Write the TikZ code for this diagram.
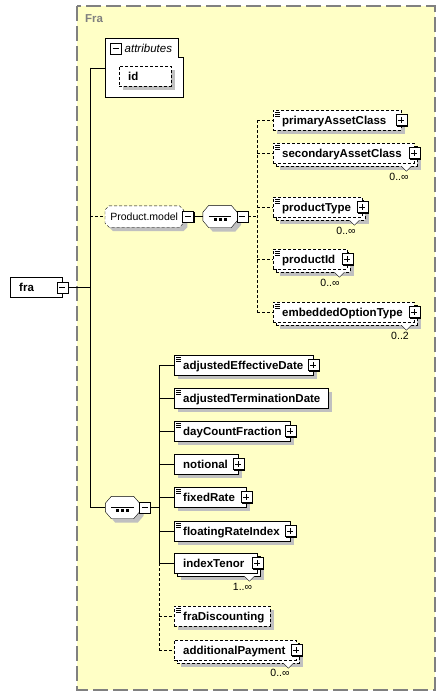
\documentclass[tikz,border=0pt]{standalone}
\usepackage{fontspec}
\setmainfont{Liberation Sans}
\usetikzlibrary{shadows}
\definecolor{bgyellow}{RGB}{255,255,198}
\definecolor{framegray}{RGB}{128,128,128}
\definecolor{shadowgray}{RGB}{192,192,192}
\newcommand\elfont{\fontsize{11.5}{13}\selectfont\bfseries}
\newcommand\elbox[2]{\makebox[#1pt][l]{\hspace{9pt}\rule[-3pt]{0pt}{14pt}#2}}
\newcommand\octp[3]{([xshift=#2]#1.north west) -- ([xshift=-#2]#1.north east) -- ([yshift=-#3]#1.north east) -- ([yshift=#3]#1.south east) -- ([xshift=-#2]#1.south east) -- ([xshift=#2]#1.south west) -- ([yshift=#3]#1.south west) -- ([yshift=-#3]#1.north west) -- cycle}
\newcommand\notch[1]{\filldraw[fill=white, solid] ([shift={(-13pt,-3pt)}]#1.south east) -- ([shift={(-8pt,-8pt)}]#1.south east) -- ([shift={(-3pt,-3pt)}]#1.south east);}
\pgfdeclarelayer{bgl}
\pgfsetlayers{bgl,main}
\begin{document}
\begin{tikzpicture}[x=1pt,y=-1pt,line width=0.8pt,
  elem/.style={draw, fill=white, inner sep=0pt, minimum height=20pt, anchor=west, font=\elfont},
  opt/.style={dash pattern=on 3pt off 2pt},
  shad/.style={drop shadow={shadow xshift=4pt, shadow yshift=-4pt, fill=shadowgray, opacity=1}},
  multi/.style={drop shadow={shadow xshift=7pt, shadow yshift=-7pt, fill=shadowgray, opacity=1},
                copy shadow={shadow xshift=3pt, shadow yshift=-3pt, draw=black, fill=white, opacity=1}},
  pmb/.style={draw, solid, fill=white, minimum size=11pt, inner sep=0pt,
              drop shadow={shadow xshift=1pt, shadow yshift=-1pt, fill=black, opacity=1}},
  plus/.style={pmb, path picture={\draw ([xshift=2.5pt]path picture bounding box.west) -- ([xshift=-2.5pt]path picture bounding box.east) ([yshift=-2.5pt]path picture bounding box.north) -- ([yshift=2.5pt]path picture bounding box.south);}},
  minus/.style={pmb, path picture={\draw ([xshift=2.5pt]path picture bounding box.west) -- ([xshift=-2.5pt]path picture bounding box.east);}},
  doc/.style={path picture={\foreach \d in {2,4,6} \draw[line width=0.6pt, solid] ([shift={(2pt,-\d pt)}]path picture bounding box.north west) -- ++(5,0);}},
  seqn/.style={minimum width=34pt, minimum height=22pt, inner sep=0pt},
  occ/.style={font=\fontsize{10.5}{12}\selectfont, inner sep=0pt},
  conn/.style={draw},
  dconn/.style={draw, dash pattern=on 3pt off 2pt}
]
\useasboundingbox (0,0) rectangle (446,697);
\begin{pgfonlayer}{bgl}
\filldraw[fill=bgyellow, draw=framegray, line width=1.2pt, dash pattern=on 15pt off 5pt] (77,6) rectangle (435,690);
\end{pgfonlayer}
\node[anchor=west, inner sep=0pt, font=\fontsize{11.5}{13}\selectfont\bfseries, text=framegray] (title) at (85,19) {Fra};

% attributes
\node[minimum width=78pt, minimum height=59pt, anchor=north west, inner sep=0pt] (attr) at (105,38) {};
\filldraw[fill=white] (attr.north west) -- ([xshift=-5pt]attr.north east) -- ([shift={(-5pt,-19pt)}]attr.north east) -- ([yshift=-19pt]attr.north east) -- (attr.south east) -- (attr.south west) -- cycle;
\node[minus] (attrm) at (115.5,48.5) {};
\node[anchor=west, inner sep=0pt, font=\fontsize{11.5}{13}\selectfont\itshape] (attrt) at (124.5,48.5) {attributes};
\node[elem, opt, shad] (id) at (119,76) {\elbox{52}{id}};

% root
\node[elem] (fra) at (10,287.5) {\elbox{52}{fra}};
\node[minus] (frm) at (fra.east) {};

% product model group
\node[minimum width=78pt, minimum height=21pt, inner sep=0pt, anchor=west, font=\fontsize{10.5}{12}\selectfont] (pm) at (105,216.5) {Product.model};
\node[minus, anchor=west] (pmm) at ([xshift=-1pt]pm.east) {};
\node[seqn] (seq1) at (220,216.5) {};
\node[minus, anchor=west] (s1m) at ([xshift=-0.5pt]seq1.east) {};
\node[seqn] (seq2) at (122.5,507.5) {};
\node[minus, anchor=west] (s2m) at ([xshift=-0.5pt]seq2.east) {};
\begin{pgfonlayer}{bgl}
\begin{scope}[transform canvas={shift={(4pt,-4pt)}}]
\fill[shadowgray] \octp{pm}{4pt}{4pt};
\fill[shadowgray] \octp{seq1}{6pt}{7pt};
\fill[shadowgray] \octp{seq2}{6pt}{7pt};
\end{scope}
\filldraw[fill=white, dash pattern=on 3pt off 2pt] \octp{pm}{4pt}{4pt};
\filldraw[fill=white] \octp{seq1}{6pt}{7pt};
\filldraw[fill=white] \octp{seq2}{6pt}{7pt};
\end{pgfonlayer}
\foreach \s in {seq1,seq2}{
  \draw ([xshift=6pt]\s.west) -- ([xshift=-6pt]\s.east);
  \foreach \dx in {-5,0,5} \fill ([shift={(\dx pt-1.5pt,-1.5pt)}]\s.center) rectangle ++(3,3);
}

% product children
\node[elem, opt, doc, shad] (pac) at (273,120) {\elbox{128}{primaryAssetClass}};
\node[plus] (pacp) at (pac.east) {};
\node[elem, opt, doc, multi] (sac) at (273,153) {\elbox{141}{secondaryAssetClass}};
\node[plus] (sacp) at (sac.east) {};
\notch{sac}
\node[occ] (saco) at (399,177) {0..∞};
\node[elem, opt, doc, multi] (pty) at (273,207) {\elbox{89}{productType}};
\node[plus] (ptyp) at (pty.east) {};
\notch{pty}
\node[occ] (ptyo) at (346,231) {0..∞};
\node[elem, opt, doc, multi] (pid) at (273,259) {\elbox{74}{productId}};
\node[plus] (pidp) at (pid.east) {};
\notch{pid}
\node[occ] (pido) at (330,283) {0..∞};
\node[elem, opt, doc, multi] (eot) at (273,312) {\elbox{141}{embeddedOptionType}};
\node[plus] (eotp) at (eot.east) {};
\notch{eot}
\node[occ] (eoto) at (400,336) {0..2};

% sequence children
\node[elem, doc, shad] (aed) at (174,365) {\elbox{139}{adjustedEffectiveDate}};
\node[plus] (aedp) at (aed.east) {};
\node[elem, doc, shad] (atd) at (174,398) {\elbox{154}{adjustedTerminationDate}};
\node[elem, doc, shad] (dcf) at (174,431) {\elbox{116}{dayCountFraction}};
\node[plus] (dcfp) at (dcf.east) {};
\node[elem, shad] (ntl) at (174,464) {\elbox{64}{notional}};
\node[plus] (ntlp) at (ntl.east) {};
\node[elem, doc, shad] (fxr) at (174,497) {\elbox{72}{fixedRate}};
\node[plus] (fxrp) at (fxr.east) {};
\node[elem, doc, shad] (fri) at (174,531) {\elbox{116}{floatingRateIndex}};
\node[plus] (frip) at (fri.east) {};
\node[elem, multi] (itn) at (174,563) {\elbox{83}{indexTenor}};
\node[plus] (itnp) at (itn.east) {};
\notch{itn}
\node[occ] (itno) at (242.5,587) {1..∞};
\node[elem, opt, doc, shad] (frd) at (174,616) {\elbox{96}{fraDiscounting}};
\node[elem, opt, multi] (adp) at (174,650) {\elbox{122}{additionalPayment}};
\node[plus] (adpp) at (adp.east) {};
\notch{adp}
\node[occ] (adpo) at (280,673) {0..∞};

% connectors
\coordinate (trunk) at (90,0);
\coordinate (v1) at (257,0);
\coordinate (v2) at (159,0);
\draw[conn] (frm.east) -- (frm.east -| trunk);
\draw[conn] (attr.west -| trunk) -- (seq2.west -| trunk);
\draw[conn] (attr.west -| trunk) -- (attr.west);
\draw[dconn] (pm.west -| trunk) -- (pm.west);
\draw[conn] (seq2.west -| trunk) -- (seq2.west);
\draw[conn] (pmm.east) -- (seq1.west);
\draw[dconn] (s1m.east) -- (s1m.east -| v1);
\draw[dconn] (pac.west -| v1) -- (eot.west -| v1);
\foreach \n in {pac,sac,pty,pid,eot} \draw[dconn] (\n.west -| v1) -- (\n.west);
\draw[conn] (s2m.east) -- (s2m.east -| v2);
\draw[conn] (aed.west -| v2) -- (itn.west -| v2);
\draw[dconn] (itn.west -| v2) -- (adp.west -| v2);
\foreach \n in {aed,atd,dcf,ntl,fxr,fri,itn} \draw[conn] (\n.west -| v2) -- (\n.west);
\foreach \n in {frd,adp} \draw[dconn] (\n.west -| v2) -- (\n.west);
\end{tikzpicture}
\end{document}
